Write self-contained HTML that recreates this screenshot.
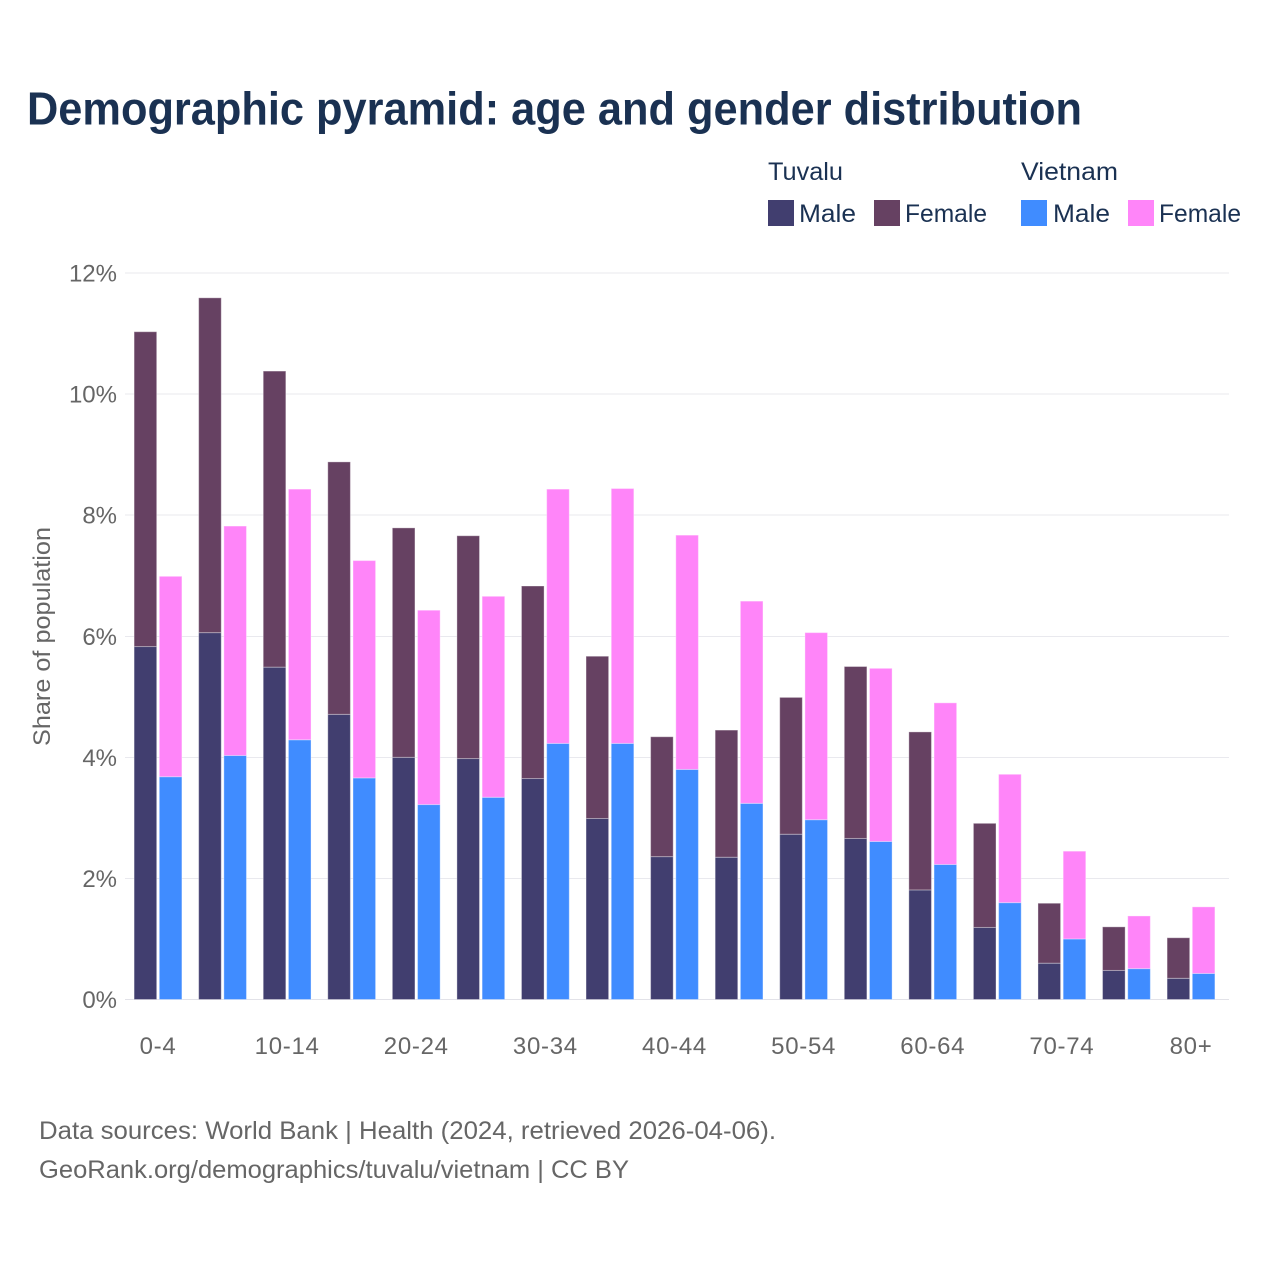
<!DOCTYPE html>
<html lang="en">
<head>
<meta charset="utf-8">
<title>Demographic pyramid</title>
<style>
html,body{margin:0;padding:0;background:#fff}
svg{display:block}
text{font-family:"Liberation Sans",sans-serif}
</style>
</head>
<body>
<svg id="chart" xmlns="http://www.w3.org/2000/svg" width="1280" height="1280" viewBox="0 0 1280 1280">
<rect width="1280" height="1280" fill="#ffffff"/>
<text x="27" y="124.5" font-size="46" font-weight="700" fill="#1a3152" textLength="1055" lengthAdjust="spacingAndGlyphs">Demographic pyramid: age and gender distribution</text>
<g font-size="25" fill="#1a3152">
<text x="768" y="180" textLength="75" lengthAdjust="spacingAndGlyphs">Tuvalu</text>
<text x="1021" y="180" textLength="97" lengthAdjust="spacingAndGlyphs">Vietnam</text>
<rect x="768" y="200" width="26" height="26" fill="#413e6f"/>
<text x="799" y="222" textLength="57" lengthAdjust="spacingAndGlyphs">Male</text>
<rect x="874" y="200" width="26" height="26" fill="#664162"/>
<text x="905" y="222" textLength="82" lengthAdjust="spacingAndGlyphs">Female</text>
<rect x="1021" y="200" width="26" height="26" fill="#408cff"/>
<text x="1053" y="222" textLength="57" lengthAdjust="spacingAndGlyphs">Male</text>
<rect x="1128" y="200" width="26" height="26" fill="#ff85f9"/>
<text x="1159" y="222" textLength="82" lengthAdjust="spacingAndGlyphs">Female</text>
</g>
<g id="grid" shape-rendering="crispEdges"></g>
<g id="bars"></g>
<g id="yticks"></g>
<g id="xticks"></g>
<text transform="translate(50,636.5) rotate(-90)" text-anchor="middle" font-size="24" fill="#666666" textLength="219" lengthAdjust="spacingAndGlyphs">Share of population</text>
<text x="39" y="1139" font-size="25" fill="#666666" textLength="737" lengthAdjust="spacingAndGlyphs">Data sources: World Bank | Health (2024, retrieved 2026-04-06).</text>
<text x="39" y="1178" font-size="25" fill="#666666" textLength="590" lengthAdjust="spacingAndGlyphs">GeoRank.org/demographics/tuvalu/vietnam | CC BY</text>
</svg>
<script>
const categories = ["0-4","5-9","10-14","15-19","20-24","25-29","30-34","35-39","40-44","45-49","50-54","55-59","60-64","65-69","70-74","75-79","80+"];
const shownCategories = ["0-4","10-14","20-24","30-34","40-44","50-54","60-64","70-74","80+"];
const yTicks = [0,2,4,6,8,10,12];
const tuvaluMale = [5.83,6.06,5.49,4.71,4.00,3.98,3.65,2.99,2.36,2.35,2.73,2.66,1.81,1.19,0.60,0.48,0.35];
const tuvaluFemale = [5.20,5.53,4.89,4.17,3.79,3.68,3.18,2.68,1.98,2.10,2.26,2.84,2.61,1.72,0.99,0.72,0.67];
const vietnamMale = [3.68,4.03,4.29,3.66,3.22,3.34,4.23,4.23,3.80,3.24,2.97,2.61,2.23,1.60,1.00,0.51,0.43];
const vietnamFemale = [3.31,3.79,4.14,3.59,3.21,3.32,4.20,4.21,3.87,3.34,3.09,2.86,2.67,2.12,1.45,0.87,1.10];

const NS = "http://www.w3.org/2000/svg";
const yScale = v => 999.5 - v * (726.5 / 12);
const xScale = i => 158 + i * (1033 / 16);
const barWidth = 22.6;
const barOffset = 12.6;

const gridGroup = document.getElementById("grid");
const yTickGroup = document.getElementById("yticks");
const xTickGroup = document.getElementById("xticks");
const barGroup = document.getElementById("bars");

yTicks.forEach(t => {
  const line = document.createElementNS(NS, "line");
  
  
  line.setAttribute("x1", 125);
  line.setAttribute("x2", 1229);
  line.setAttribute("y1", yScale(t));
  line.setAttribute("y2", yScale(t));
  line.setAttribute("stroke", t === 0 ? "#e2e2e8" : "#e9e9ee");
  line.setAttribute("stroke-width", 1);
  gridGroup.appendChild(line);

  const label = document.createElementNS(NS, "text");
  
  
  label.setAttribute("x", 117);
  label.setAttribute("y", yScale(t) + 8.5);
  label.setAttribute("text-anchor", "end");
  label.setAttribute("font-size", 24);
  label.setAttribute("fill", "#666666");
  label.textContent = t + "%";
  yTickGroup.appendChild(label);
});

categories.forEach((c, i) => {
  if (shownCategories.includes(c)) {
    const label = document.createElementNS(NS, "text");
    
    
    label.setAttribute("x", xScale(i));
    label.setAttribute("y", 1054);
    label.setAttribute("text-anchor", "middle");
    label.setAttribute("font-size", 24);
    label.setAttribute("letter-spacing", "0.7");
    label.setAttribute("fill", "#666666");
    label.textContent = c;
    xTickGroup.appendChild(label);
  }
});

function drawBar(x, base, value, fill, name) {
  const rect = document.createElementNS(NS, "rect");
  
  
  rect.setAttribute("x", x - barWidth / 2);
  rect.setAttribute("y", yScale(base + value));
  rect.setAttribute("width", barWidth);
  rect.setAttribute("height", yScale(base) - yScale(base + value));
  rect.setAttribute("fill", fill);
  rect.setAttribute("stroke", "#ffffff");
  rect.setAttribute("stroke-opacity", "0.35");
  rect.setAttribute("stroke-width", "1");
  barGroup.appendChild(rect);
}

categories.forEach((c, i) => {
  drawBar(xScale(i) - barOffset, 0, tuvaluMale[i], "#413e6f", "bar-tuvalu-male");
  drawBar(xScale(i) - barOffset, tuvaluMale[i], tuvaluFemale[i], "#664162", "bar-tuvalu-female");
  drawBar(xScale(i) + barOffset, 0, vietnamMale[i], "#408cff", "bar-vietnam-male");
  drawBar(xScale(i) + barOffset, vietnamMale[i], vietnamFemale[i], "#ff85f9", "bar-vietnam-female");
});
</script>
</body>
</html>
